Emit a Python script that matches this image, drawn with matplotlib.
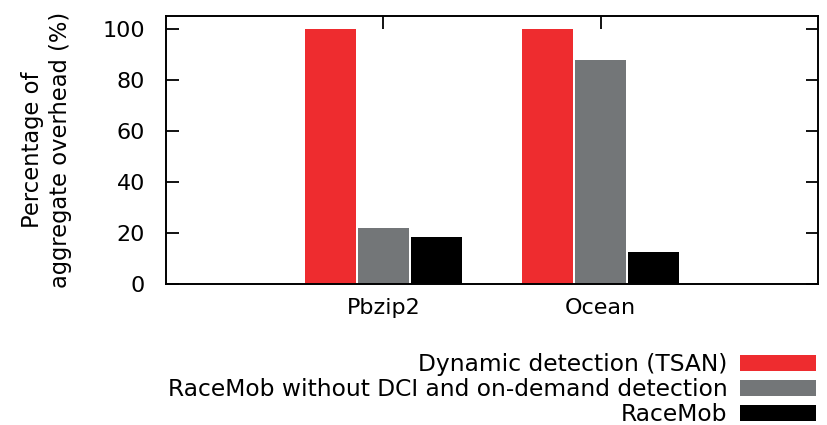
import matplotlib
matplotlib.use("Agg")
import matplotlib.pyplot as plt
import numpy as np

categories = ["Pbzip2", "Ocean"]
series_names = ["Dynamic detection (TSAN)",
                "RaceMob without DCI and on-demand detection",
                "RaceMob"]
tsan = [100, 100]
racemob_nodci = [22, 88]
racemob = [18.5, 12.5]
colors = ["#ee2c2f", "#737678", "#000000"]
yticks = [0, 20, 40, 60, 80, 100]

plt.rcParams['font.family'] = ['DejaVu Sans']

fig = plt.figure(figsize=(8.28, 4.25), dpi=100)
L, R, T, B = 166, 818, 16, 284
ax = fig.add_axes([L/828, 1-B/425, (R-L)/828, (B-T)/425])

x = np.arange(len(categories))
offsets = [-0.245, 0.0, 0.245]
width = 0.235
for vals, off, col, name in zip([tsan, racemob_nodci, racemob], offsets, colors, series_names):
    ax.bar(x + off, vals, width=width, color=col, label=name, edgecolor='none')

ax.set_xlim(-1, 2)
ax.set_ylim(0, 105.3)
ax.set_yticks(yticks)
ax.set_xticks(x)
ax.set_xticklabels(categories)
ax.tick_params(direction='in', length=9, width=1.3, top=True, right=True,
               labelsize=16, pad=15)
ax.tick_params(axis='x', bottom=False, pad=10)
for s in ax.spines.values():
    s.set_linewidth(1.4)

ax.set_ylabel("Percentage of\naggregate overhead (%)", fontsize=16.3, labelpad=22,
              linespacing=1.25)

leg = fig.legend(loc='upper right', bbox_to_anchor=(816/828, 1-353/425),
                 frameon=False, markerfirst=False, fontsize=16.8,
                 handlelength=3.25, handleheight=0.68, labelspacing=0.09,
                 handletextpad=0.55, borderpad=0, borderaxespad=0)

fig.savefig("out.png", dpi=100)
